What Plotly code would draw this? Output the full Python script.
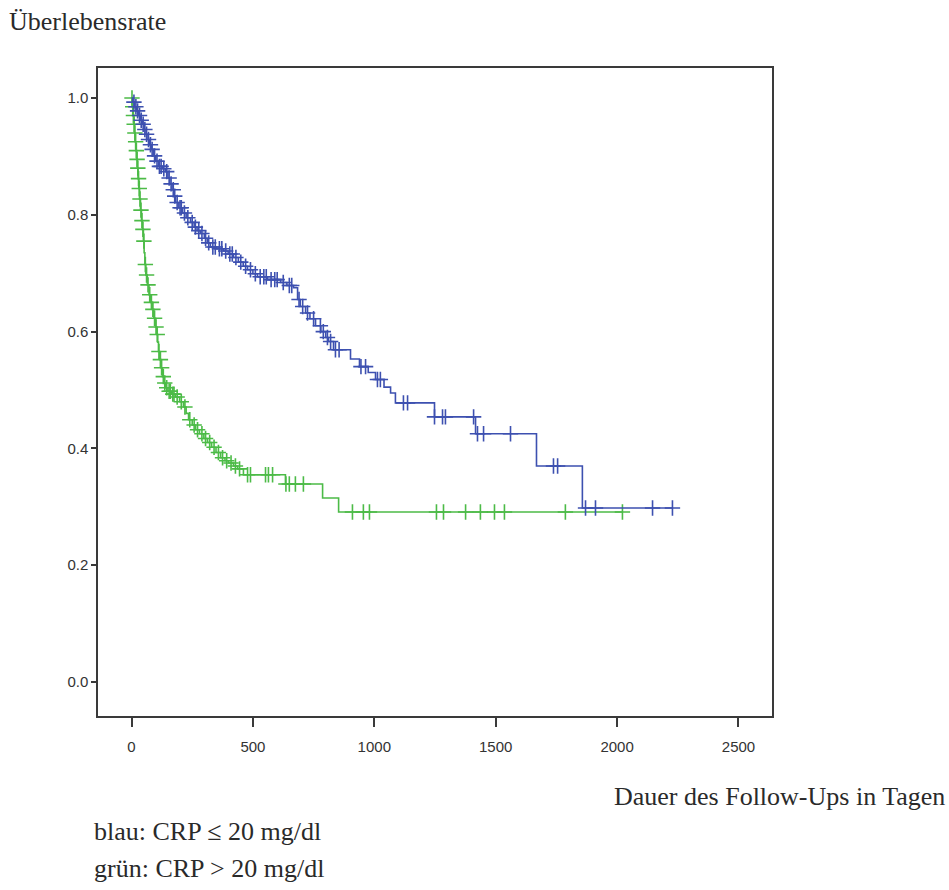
import numpy as np
import plotly.graph_objects as go

# Kaplan-Meier step data: event times (days) and survival after each step
blue_t = [0, 5, 12, 20, 29, 37, 45, 52, 60, 68, 75, 82, 90, 100, 111, 128, 140, 150, 158,
          167, 175, 181, 195, 210, 225, 243, 258, 270, 284, 300, 312, 325, 350, 379, 398,
          420, 440, 460, 478, 500, 519, 560, 614, 640, 667, 684, 695, 717, 735, 758, 780,
          800, 811, 832, 902, 939, 975, 1005, 1040, 1067, 1087, 1248, 1417, 1668, 1857]
blue_s = [1.0, 0.993, 0.985, 0.978, 0.970, 0.962, 0.955, 0.946, 0.938, 0.929, 0.920, 0.912,
          0.901, 0.892, 0.883, 0.879, 0.874, 0.863, 0.853, 0.843, 0.832, 0.821, 0.812, 0.803,
          0.795, 0.787, 0.779, 0.773, 0.768, 0.760, 0.752, 0.745, 0.742, 0.738, 0.733, 0.727,
          0.719, 0.712, 0.706, 0.699, 0.694, 0.689, 0.684, 0.679, 0.675, 0.655, 0.643, 0.632,
          0.622, 0.610, 0.600, 0.590, 0.583, 0.569, 0.553, 0.540, 0.530, 0.518, 0.505, 0.495,
          0.478, 0.454, 0.425, 0.370, 0.298]
blue_end = 2228
blue_cens = [10, 18, 25, 33, 40, 48, 55, 62, 70, 78, 85, 95, 105, 115, 122, 133, 145, 155,
             163, 172, 178, 188, 200, 205, 218, 232, 250, 263, 277, 290, 305, 318, 335, 345,
             362, 372, 388, 405, 415, 430, 450, 470, 490, 510, 530, 545, 555, 575, 590, 600,
             625, 650, 660, 690, 705, 725, 750, 778, 790, 807, 820, 840, 855, 945, 964, 1013,
             1025, 1120, 1137, 1248, 1281, 1293, 1409, 1425, 1450, 1561, 1738, 1755, 1870,
             1911, 2146, 2228]

green_t = [0, 3, 6, 9, 12, 15, 18, 21, 24, 27, 30, 33, 37, 41, 45, 49, 52, 55, 59, 65, 72,
           79, 86, 92, 99, 104, 108, 111, 116, 121, 128, 134, 140, 150, 165, 181, 198, 214,
           225, 235, 250, 264, 280, 298, 313, 330, 348, 367, 385, 400, 420, 437, 461, 634,
           787, 853]
green_s = [1.0, 0.985, 0.970, 0.955, 0.940, 0.925, 0.910, 0.895, 0.880, 0.862, 0.845, 0.827,
           0.808, 0.790, 0.775, 0.755, 0.735, 0.715, 0.697, 0.680, 0.663, 0.650, 0.638, 0.623,
           0.608, 0.595, 0.582, 0.566, 0.552, 0.538, 0.523, 0.512, 0.504, 0.498, 0.493, 0.488,
           0.480, 0.471, 0.460, 0.449, 0.440, 0.432, 0.425, 0.417, 0.410, 0.402, 0.393, 0.384,
           0.379, 0.375, 0.370, 0.365, 0.355, 0.339, 0.315, 0.291]
green_end = 2022
green_cens = [2, 5, 8, 11, 14, 17, 20, 23, 26, 29, 32, 35, 39, 43, 47, 51, 57, 62, 68, 75,
              82, 88, 95, 101, 106, 113, 119, 124, 131, 137, 145, 155, 160, 170, 175, 188,
              205, 220, 240, 258, 272, 290, 305, 322, 340, 358, 375, 392, 410, 428, 445, 478,
              490, 552, 564, 581, 636, 650, 675, 708, 910, 955, 980, 1256, 1285, 1376, 1437,
              1495, 1536, 1787, 2022]

x_ticks = [0, 500, 1000, 1500, 2000, 2500]
y_ticks = [0.0, 0.2, 0.4, 0.6, 0.8, 1.0]

BLUE = "#3d50b0"
GREEN = "#4cbb47"


def step_value(times, surv, at):
    idx = np.searchsorted(np.asarray(times), np.asarray(at), side="right") - 1
    return np.asarray(surv)[idx]


fig = go.Figure()
for t, s, end, cens, col in [(green_t, green_s, green_end, green_cens, GREEN),
                             (blue_t, blue_s, blue_end, blue_cens, BLUE)]:
    xs = list(t) + [end]
    ys = list(s) + [s[-1]]
    fig.add_trace(go.Scatter(x=xs, y=ys, mode="lines", line=dict(color=col, width=1.6, shape="hv"),
                             showlegend=False, hoverinfo="skip"))
    fig.add_trace(go.Scatter(x=cens, y=step_value(t, s, cens), mode="markers",
                             marker=dict(symbol="cross-thin", size=11,
                                         line=dict(color=col, width=1.6)),
                             showlegend=False))

axis_common = dict(showline=True, mirror=True, linecolor="#3a3a3a", linewidth=1.5,
                   ticks="outside", tickcolor="#3a3a3a", tickwidth=1.5,
                   showgrid=False, zeroline=False,
                   tickfont=dict(family="Liberation Sans Narrow, Arial Narrow, Liberation Sans",
                                 size=15, color="#333"))

fig.update_xaxes(range=[-138, 2638], tickvals=x_ticks, ticktext=[str(v) for v in x_ticks],
                 ticklen=9, ticklabelstandoff=7, **axis_common)
fig.update_yaxes(range=[-0.0582, 1.0514], tickvals=y_ticks,
                 ticktext=[f"{v:.1f}" for v in y_ticks], ticklen=5, ticklabelstandoff=0,
                 **axis_common)

serif = dict(family="Liberation Serif, Times New Roman, serif", size=26, color="#2a2a2a")
W, H = 949, 890
L, R, T, B = 98, 177, 68, 174
pw, ph = W - L - R, H - T - B


def px(x):
    return (x - L) / pw


def py(y):
    return (H - B - y) / ph


fig.add_annotation(text="Überlebensrate", xref="paper", yref="paper", x=px(7), y=py(22),
                   xanchor="left", yanchor="middle", showarrow=False, font=serif)
fig.add_annotation(text="Dauer des Follow-Ups in Tagen", xref="paper", yref="paper",
                   x=px(947), y=py(796), xanchor="right", yanchor="middle", showarrow=False,
                   font=serif)
fig.add_annotation(text="blau: CRP ≤ 20 mg/dl", xref="paper", yref="paper", x=px(92),
                   y=py(831), xanchor="left", yanchor="middle", showarrow=False, font=serif)
fig.add_annotation(text="grün: CRP > 20 mg/dl", xref="paper", yref="paper", x=px(92),
                   y=py(868), xanchor="left", yanchor="middle", showarrow=False, font=serif)

fig.update_layout(width=W, height=H, margin=dict(l=L, r=R, t=T, b=B),
                  paper_bgcolor="white", plot_bgcolor="white")

fig.write_html("out.html")
